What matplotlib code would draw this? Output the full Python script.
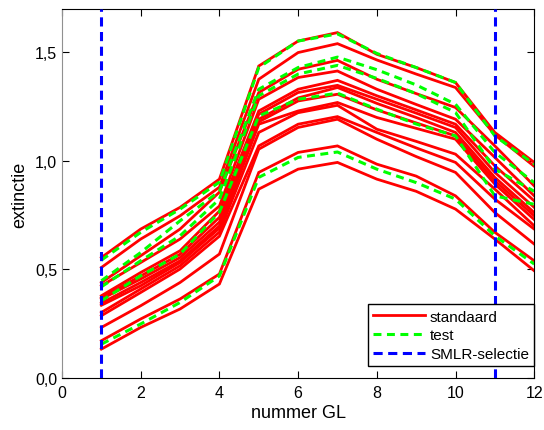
import matplotlib
matplotlib.use('Agg')
import matplotlib.pyplot as plt
from matplotlib.ticker import FuncFormatter

plt.rcParams['font.family'] = ['Liberation Sans', 'DejaVu Sans']

gl = [1, 2, 3, 4, 5, 6, 7, 8, 9, 10, 11, 12]

# standaard spectra (rows = GL 1..12 for each sample)
standaard = [
    [0.555, 0.686, 0.786, 0.916, 1.437, 1.552, 1.591, 1.491, 1.430, 1.361, 1.131, 0.993],
    [0.509, 0.640, 0.747, 0.879, 1.376, 1.499, 1.540, 1.465, 1.400, 1.338, 1.120, 0.975],
    [0.440, 0.563, 0.686, 0.856, 1.315, 1.422, 1.463, 1.376, 1.310, 1.246, 1.069, 0.885],
    [0.425, 0.532, 0.640, 0.792, 1.284, 1.384, 1.414, 1.330, 1.260, 1.192, 1.016, 0.839],
    [0.379, 0.486, 0.586, 0.769, 1.230, 1.330, 1.371, 1.300, 1.235, 1.169, 0.977, 0.816],
    [0.370, 0.470, 0.570, 0.740, 1.215, 1.315, 1.348, 1.284, 1.220, 1.154, 0.947, 0.786],
    [0.364, 0.456, 0.555, 0.718, 1.192, 1.290, 1.338, 1.265, 1.200, 1.131, 0.924, 0.762],
    [0.345, 0.440, 0.540, 0.700, 1.180, 1.276, 1.307, 1.235, 1.175, 1.115, 0.908, 0.747],
    [0.335, 0.425, 0.532, 0.690, 1.169, 1.230, 1.269, 1.200, 1.150, 1.100, 0.893, 0.730],
    [0.302, 0.410, 0.517, 0.672, 1.131, 1.222, 1.256, 1.146, 1.090, 1.031, 0.870, 0.701],
    [0.287, 0.394, 0.502, 0.653, 1.069, 1.169, 1.204, 1.131, 1.060, 0.993, 0.824, 0.686],
    [0.233, 0.333, 0.440, 0.571, 1.054, 1.154, 1.192, 1.100, 1.020, 0.947, 0.762, 0.617],
    [0.172, 0.272, 0.364, 0.479, 0.947, 1.039, 1.069, 0.985, 0.930, 0.839, 0.671, 0.540],
    [0.133, 0.233, 0.318, 0.433, 0.870, 0.962, 0.993, 0.916, 0.860, 0.778, 0.640, 0.494],
]

test = [
    [0.543, 0.671, 0.778, 0.902, 1.430, 1.552, 1.585, 1.495, 1.430, 1.361, 1.115, 0.985],
    [0.448, 0.578, 0.724, 0.860, 1.330, 1.430, 1.478, 1.420, 1.350, 1.261, 1.039, 0.900],
    [0.420, 0.540, 0.655, 0.824, 1.300, 1.400, 1.440, 1.380, 1.310, 1.223, 0.962, 0.860],
    [0.356, 0.471, 0.571, 0.764, 1.207, 1.284, 1.312, 1.238, 1.170, 1.115, 0.839, 0.800],
    [0.156, 0.249, 0.348, 0.470, 0.924, 1.016, 1.041, 0.962, 0.900, 0.824, 0.655, 0.525],
]

smlr_selectie = [1, 11]

fig = plt.figure(figsize=(5.44, 4.31), dpi=100)
ax = fig.add_axes([0.114, 0.1206, 0.868, 0.8564])

for i, row in enumerate(standaard):
    ax.plot(gl, row, color='#ff0000', lw=2.0, solid_joinstyle='miter',
            label='standaard' if i == 0 else None, zorder=2)
for i, row in enumerate(test):
    ax.plot(gl, row, color='#00ff00', lw=2.2, dashes=(2.6, 1.8),
            label='test' if i == 0 else None, zorder=3)
for i, xv in enumerate(smlr_selectie):
    ax.axvline(xv, color='#0000ff', lw=2.2, dashes=(3.0, 1.8),
               label='SMLR-selectie' if i == 0 else None, zorder=4)

ax.set_xlim(0, 12)
ax.set_ylim(0, 1.70)
ax.set_xticks(range(0, 13, 2))
ax.set_yticks([0, 0.5, 1.0, 1.5])
ax.yaxis.set_major_formatter(FuncFormatter(lambda v, p: ('%.1f' % v).replace('.', ',')))
ax.tick_params(direction='in', top=True, right=True, length=5, labelsize=11.5)
ax.tick_params(axis='x', pad=5)
ax.spines['left'].set_color('#909090')

ax.set_xlabel('nummer GL', fontsize=13, labelpad=3)
ax.set_ylabel('extinctie', fontsize=13, labelpad=5)

leg = ax.legend(loc='lower right', bbox_to_anchor=(1.0, 0.032), fontsize=11,
                fancybox=False, framealpha=1, edgecolor='black',
                handlelength=3.4, borderaxespad=0.0, borderpad=0.35,
                labelspacing=0.3, handletextpad=0.3)
leg.get_frame().set_linewidth(1.0)

fig.savefig('out.png', dpi=100)
